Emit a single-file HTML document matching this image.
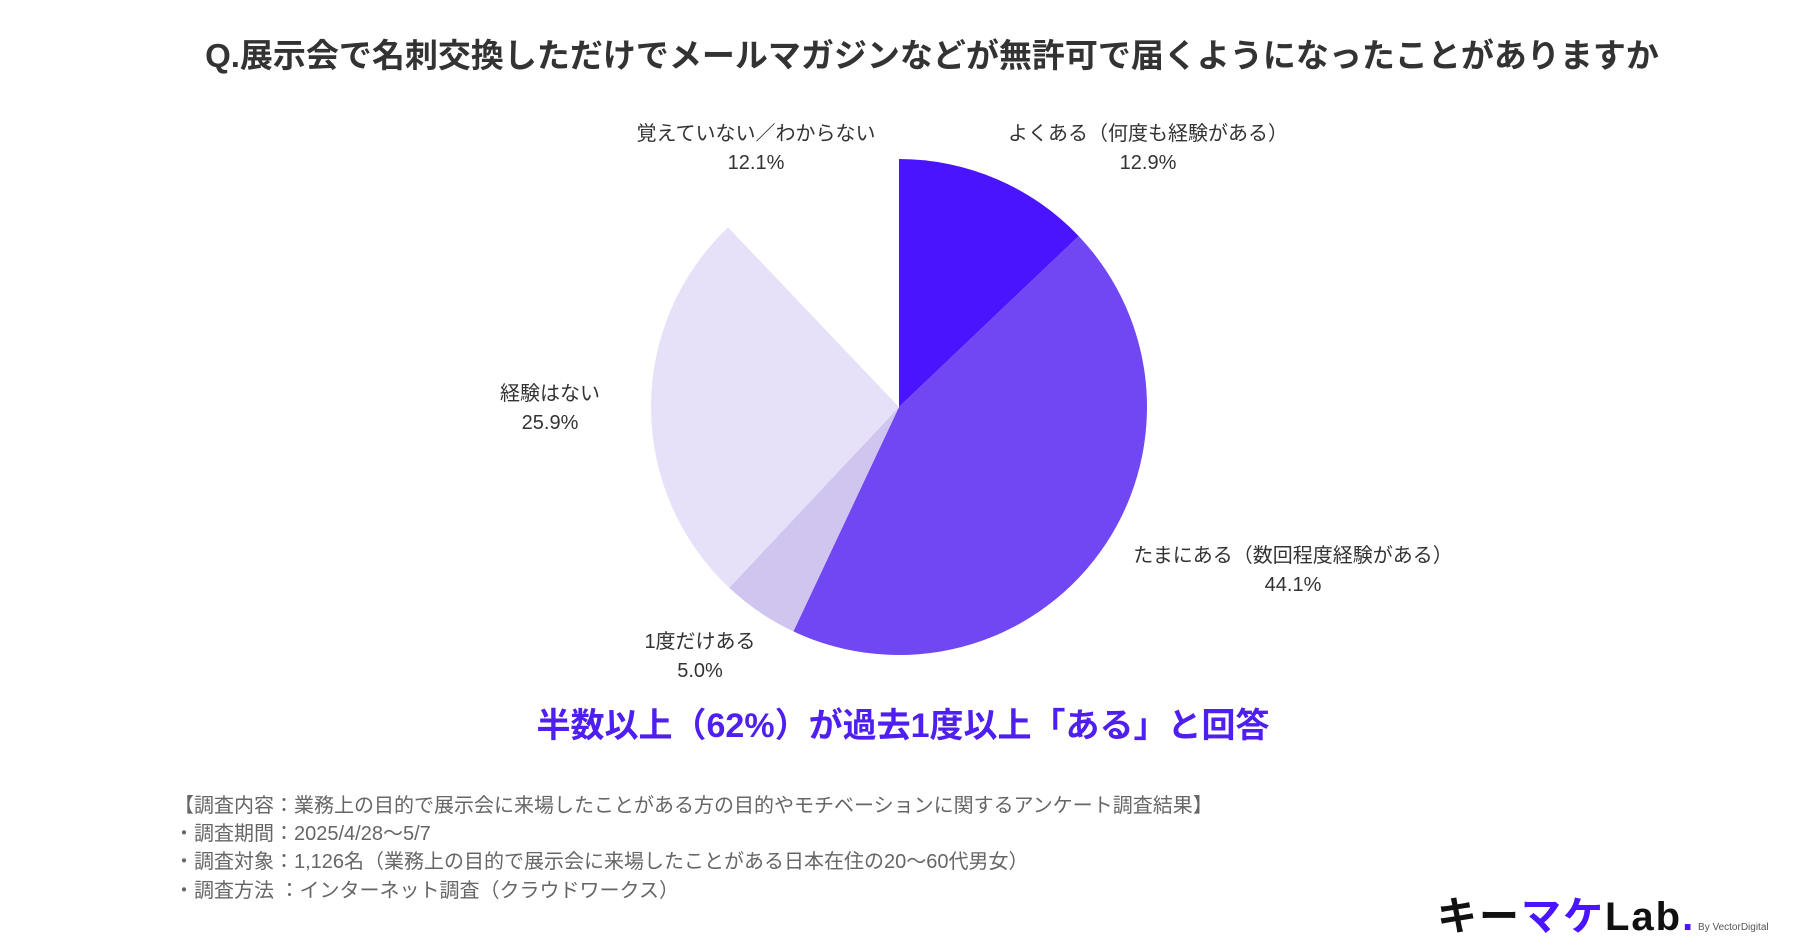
<!DOCTYPE html>
<html><head><meta charset="utf-8"><style>
body{margin:0;width:1800px;height:945px;background:#fff;overflow:hidden;font-family:"Liberation Sans","Noto Sans CJK JP",sans-serif;position:relative}
.t{position:absolute;white-space:nowrap}
.c{transform:translateX(-50%);text-align:center}
.lbl{font-size:20px;color:#333;line-height:29px}
.note{font-size:20px;color:#666;left:174px}
</style></head><body>
<div class="t c" style="left:932px;top:29px;font-size:33px;font-weight:bold;color:#333">Q.展示会で名刺交換しただけでメールマガジンなどが無許可で届くようになったことがありますか</div>
<svg id="pie" width="1800" height="945" style="position:absolute;left:0;top:0"></svg>
<div class="t c lbl" style="left:1148px;top:120px">よくある（何度も経験がある）<br>12.9%</div>
<div class="t c lbl" style="left:756px;top:120px">覚えていない／わからない<br>12.1%</div>
<div class="t c lbl" style="left:550px;top:380px">経験はない<br>25.9%</div>
<div class="t c lbl" style="left:1293px;top:542px">たまにある（数回程度経験がある）<br>44.1%</div>
<div class="t c lbl" style="left:700px;top:628px">1度だけある<br>5.0%</div>
<div class="t c" style="left:903px;top:698px;font-size:34px;font-weight:bold;color:#4f1ff0">半数以上（62%）が過去1度以上「ある」と回答</div>
<div class="t note" style="top:789px">【調査内容：業務上の目的で展示会に来場したことがある方の目的やモチベーションに関するアンケート調査結果】</div>
<div class="t note" style="top:817px">・調査期間：2025/4/28〜5/7</div>
<div class="t note" style="top:845px">・調査対象：1,126名（業務上の目的で展示会に来場したことがある日本在住の20〜60代男女）</div>
<div class="t note" style="top:874px">・調査方法 ：インターネット調査（クラウドワークス）</div>
<div class="t" style="left:1437px;top:884px;font-size:40px;font-weight:bold;letter-spacing:2px;color:#111">キー<span style="color:#4a14ff">マケ</span>Lab<span style="color:#4a14ff">.</span><span style="font-size:10px;font-weight:normal;color:#555;letter-spacing:0"> By VectorDigital</span></div>
<script>
const categories=["よくある","たまにある","1度だけある","経験はない","覚えていない"];
const values=[12.9,44.1,5.0,25.9,12.1];
const colors=["#4a14ff","#7047f3","#cfc5ef","#e6e0f8","#ffffff"];
const cx=899,cy=407,r=248;
const svg=document.getElementById('pie');
const total=values.reduce((a,b)=>a+b,0);
let a0=0;
function pt(a){const t=a/total*2*Math.PI-Math.PI/2;return [cx+r*Math.cos(t),cy+r*Math.sin(t)];}
values.forEach((v,i)=>{
 const a1=a0+v;const p0=pt(a0),p1=pt(a1);
 const large=v/total>0.5?1:0;
 const p=document.createElementNS('http://www.w3.org/2000/svg','path');
 p.setAttribute('d',`M${cx},${cy}L${p0[0]},${p0[1]}A${r},${r} 0 ${large} 1 ${p1[0]},${p1[1]}Z`);
 p.setAttribute('fill',colors[i]);
 
 
 svg.appendChild(p);a0=a1;
});
</script>
</body></html>
